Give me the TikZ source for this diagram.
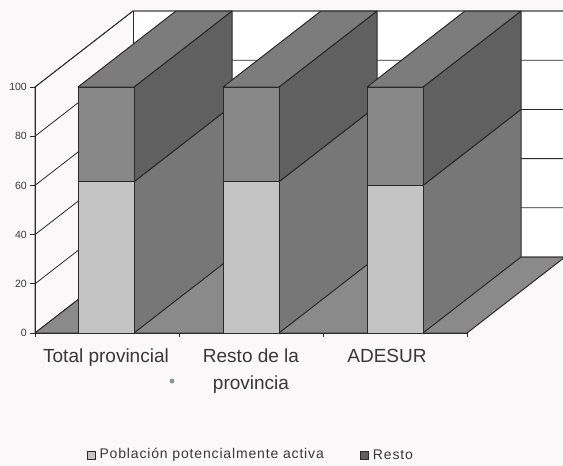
\documentclass[tikz,border=0pt]{standalone}
\usepackage{fontspec}
\setmainfont{Liberation Sans}
\newfontfamily\legfont[LetterSpace=6]{Liberation Sans}
\usetikzlibrary{positioning}
\definecolor{paper}{HTML}{FAF8F8}
\definecolor{edge}{HTML}{2A2A2A}
\definecolor{ink}{HTML}{383838}
\definecolor{frontlow}{HTML}{C4C4C4}
\definecolor{frontup}{HTML}{888888}
\definecolor{sidelow}{HTML}{777777}
\definecolor{sideup}{HTML}{606060}
\definecolor{topcol}{HTML}{7C7C7C}
\definecolor{floorcol}{HTML}{8A8A8A}
\definecolor{speckcol}{HTML}{859A92}
\tikzset{
  wall/.style    = {draw=edge, line width=0.8pt},
  face/.style    = {draw=edge, line width=1pt, line join=round},
  cat/.style     = {text=ink, font=\fontsize{19}{27}\selectfont, align=center, inner sep=0pt, anchor=north},
  tick/.style    = {text=ink, font=\fontsize{10.5}{12}\selectfont, anchor=east, inner sep=0pt},
  legbox/.style  = {draw=edge, line width=0.7pt, minimum size=8pt, inner sep=0pt},
  legtext/.style = {text=ink, font=\legfont\fontsize{14}{16}\selectfont, inner sep=0pt},
}

\begin{document}
\begin{tikzpicture}[x=1pt,y=-1pt]
    \useasboundingbox (0,0) rectangle (563,466);
    \fill[paper] (0,0) rectangle (563,466);

    % Back wall and left wall
    \fill[white] (133,11) rectangle (563,257);
    \draw[wall] (35,333) -- (35,87) -- (133,11) -- (563,11);
    \draw[wall] (133,11) -- (133,257);
    \foreach \v in {0,20,...,100} {
      \draw[wall] (35,{333-2.46*\v}) -- ++(98,-76) -- (563,{257-2.46*\v});
      \draw[wall] (30,{333-2.46*\v}) -- (35,{333-2.46*\v});
    }

    % Floor
    \filldraw[face, fill=floorcol] (35,333) -- (467,333) -- (565,257) -- (133,257) -- cycle;

    % Bars (center / share of the lower part)
    \foreach \c/\v in {106/61.5, 251/61.5, 395/60} {
      \pgfmathsetmacro\ys{333-2.46*\v}
      \filldraw[face, fill=sidelow] ({\c+28},333) -- ({\c+28},\ys) -- ++(98,-76) -- ({\c+126},257) -- cycle;
      \filldraw[face, fill=sideup] ({\c+28},\ys) -- ({\c+28},87) -- ++(98,-76) -- ({\c+126},{\ys-76}) -- cycle;
      \filldraw[face, fill=topcol] ({\c-28},87) -- ({\c+28},87) -- ++(98,-76) -- ({\c+70},11) -- cycle;
      \filldraw[face, fill=frontlow] ({\c-28},333) rectangle ({\c+28},\ys);
      \filldraw[face, fill=frontup] ({\c-28},\ys) rectangle ({\c+28},87);
    }

    % Axes
    \draw[wall] (35,337) -- (35,87);
    \draw[wall] (35,333) -- (467,333);
    \foreach \x in {179,323,467}
      \draw[wall] (\x,333) -- (\x,337);

    % Value labels
    \node[tick] (v0)   at (27,333) {0};
    \node[tick] (v20)  at (27,283.8) {20};
    \node[tick] (v40)  at (27,234.6) {40};
    \node[tick] (v60)  at (27,185.4) {60};
    \node[tick] (v80)  at (27,136.2) {80};
    \node[tick] (v100) at (27,87) {100};

    % Category labels
    \node[cat] (ctotal) at (106,349) {Total provincial};
    \node[cat] (cresto) at (251,349) {Resto de la\\provincia};
    \node[cat] (cadesur) at (387,349) {ADESUR};
    \node[circle, fill=speckcol, inner sep=0pt, minimum width=5pt, minimum height=4pt] (speck) at (172,381) {};

    % Legend
    \node[legbox, fill=frontlow] (keypob) at (91,455) {};
    \node[legtext, right=4pt of keypob] (txtpob) {Población potencialmente activa};
    \node[legbox, fill=sideup, right=36pt of txtpob] (keyresto) {};
    \node[legtext, right=4pt of keyresto] (txtresto) {Resto};
\end{tikzpicture}
\end{document}
